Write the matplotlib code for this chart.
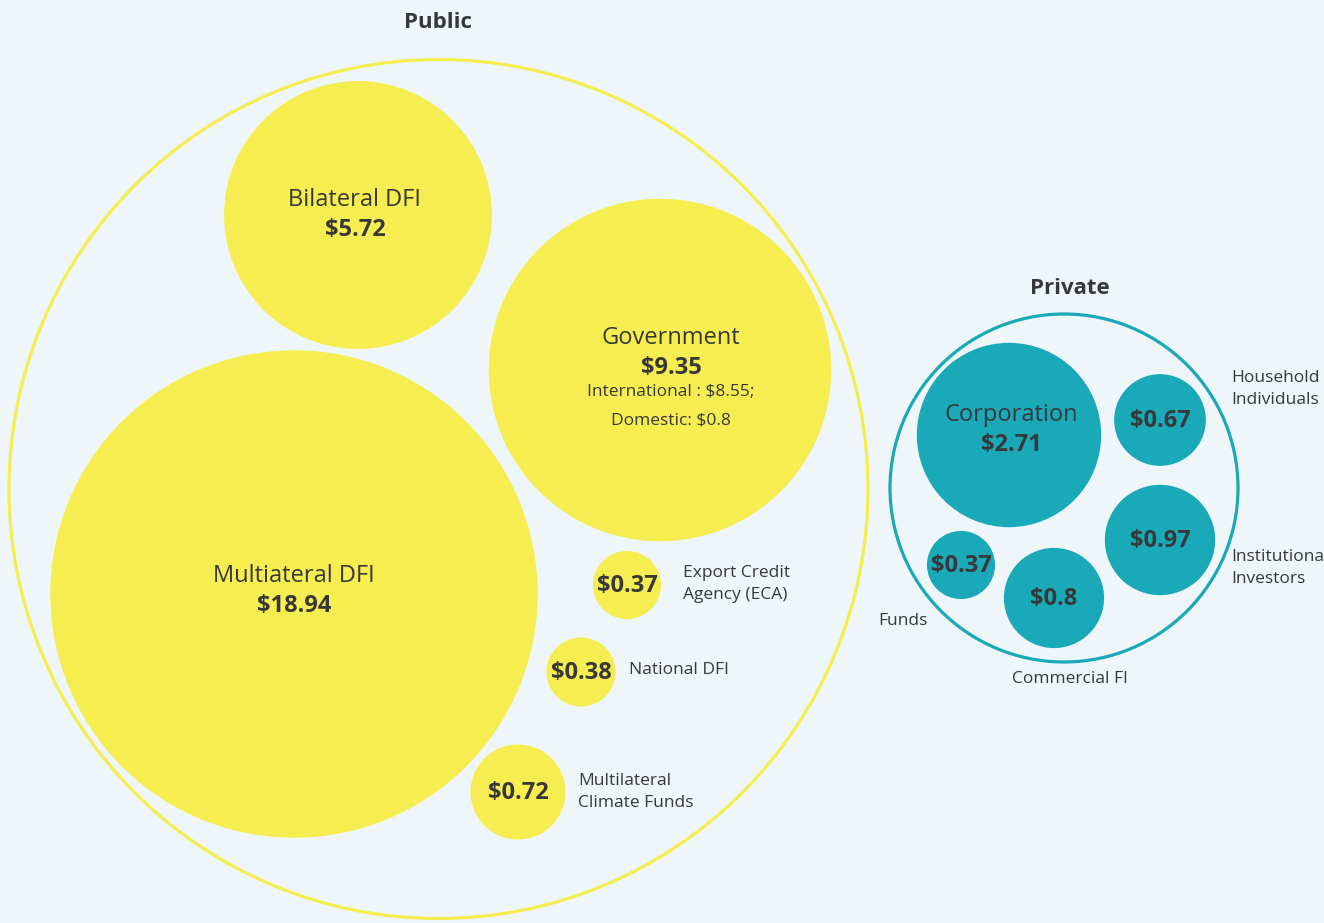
import numpy as np
import matplotlib

matplotlib.use("Agg")
import matplotlib.pyplot as plt  # noqa: E402
from matplotlib.patches import Circle  # noqa: E402

# -- Daten -------------------------------------------------------------
public_names = ["Bilateral DFI", "Government", "Multiateral DFI",
                "Export Credit\nAgency (ECA)", "National DFI",
                "Multilateral\nClimate Funds"]
public_values = [5.72, 9.35, 18.94, 0.37, 0.38, 0.72]
gov_international = 8.55
gov_domestic = 0.8

private_names = ["Corporation", "Household\nIndividuals",
                 "Institutional\nInvestors", "Funds", "Commercial FI"]
private_values = [2.71, 0.67, 0.97, 0.37, 0.8]

# -- Layout (Pixelkoordinaten, y nach unten) ----------------------------
public_pos = [(358, 215), (660, 370), (294, 594), (627, 585), (581, 672), (518, 792)]
private_pos = [(1009, 435), (1160, 420), (1160, 540), (961, 565), (1054, 598)]
# Name im Kreis: ("in", x, y_name); sonst (x, y, ha) neben dem Kreis
public_label = [("in", 355, 200), ("in", 671, 338), ("in", 294, 576),
                (683, 584, "left"), (629, 670, "left"), (578, 792, "left")]
private_label = [("in", 1011, 415), (1231, 389, "left"), (1231, 568, "left"),
                 (903, 621, "center"), (1070, 679, "center")]
public_outer = (438.5, 489, 429.5)
private_outer = (1064, 488, 174)

K = 56.0  # Pixel pro sqrt($)
GELB = "#f6ee50"
TUERKIS = "#19a9b9"
HINTERGRUND = "#eef6f9"
TEXT = "#383838"
FONT = ["Open Sans", "DejaVu Sans"]

plt.rcParams["font.family"] = FONT

fig = plt.figure(figsize=(13.24, 9.23), dpi=100, facecolor=HINTERGRUND)
ax = fig.add_axes([0, 0, 1, 1])
ax.set_xlim(0, 1324)
ax.set_ylim(923, 0)
ax.set_facecolor(HINTERGRUND)
ax.axis("off")


def gruppe(namen, werte, pos, labels, farbe, outer, titel, titel_x, titel_y):
    cx, cy, r = outer
    ax.add_patch(Circle((cx, cy), r, facecolor="none", edgecolor=farbe,
                        linewidth=2.3))
    ax.text(titel_x, titel_y, titel, ha="center", va="center",
            fontsize=16, fontweight="bold", color=TEXT)
    for name, wert, (x, y), lab in zip(namen, werte, pos, labels):
        radius = K * np.sqrt(wert)
        ax.add_patch(Circle((x, y), radius, facecolor=farbe, edgecolor="none"))
        wert_txt = f"${wert:g}"
        if lab[0] == "in":
            _, lx, ly = lab
            ax.text(lx, ly, name, ha="center", va="center",
                    fontsize=17, color=TEXT)
            ax.text(lx, ly + 30, wert_txt, ha="center", va="center",
                    fontsize=17, fontweight="bold", color=TEXT)
        else:
            ax.text(x, y + 1, wert_txt, ha="center", va="center",
                    fontsize=17, fontweight="bold", color=TEXT)
            lx, ly, ha = lab
            ax.text(lx, ly, name, ha=ha, va="center", fontsize=12.5,
                    color=TEXT, linespacing=1.45)


gruppe(public_names, public_values, public_pos, public_label, GELB,
       public_outer, "Public", 438, 22)
gruppe(private_names, private_values, private_pos, private_label, TUERKIS,
       private_outer, "Private", 1070, 289)

# Aufteilung Government
ax.text(671, 392, f"International : ${gov_international:g};",
        ha="center", va="center", fontsize=12.5, color=TEXT)
ax.text(671, 420, f"Domestic: ${gov_domestic:g}",
        ha="center", va="center", fontsize=12.5, color=TEXT)

fig.savefig("out.png", dpi=100, facecolor=HINTERGRUND)
